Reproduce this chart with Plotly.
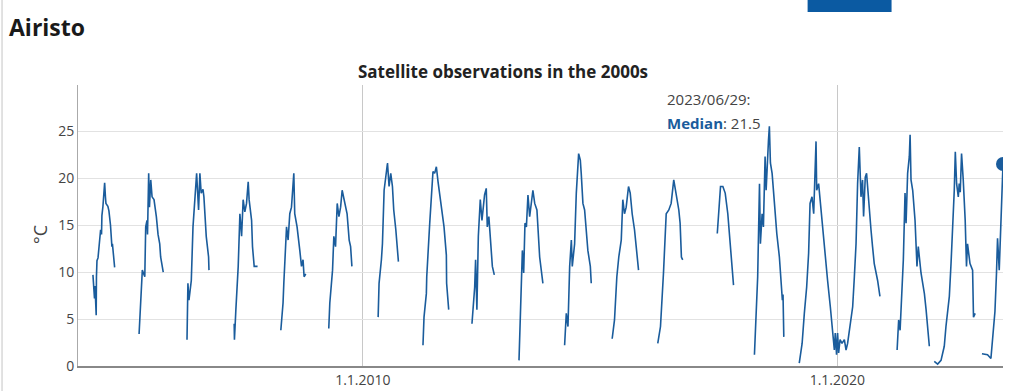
import datetime as dt
import plotly.graph_objects as go

# ---- data (day-of-year offsets from 1 Jan, water temperature °C) ----
doy_2004 = [115,123,127,131,140,142,146,154,161,169,174,181,184,192,205,211,215,230,238,250,261,265,282]
t_2004 = [9.7,8.0,7.2,8.5,5.4,9.5,11.2,11.5,12.5,14.0,14.5,14.0,16.0,17.0,19.5,18.0,17.3,17.0,16.5,15.0,12.7,13.0,10.5]
doy_2005 = [104,111,121,129,148,155,165,169,178,184,194,204,219,237,250,263,270,290]
t_2005 = [3.4,5.2,6.7,10.2,9.5,14.8,15.5,14.0,20.5,16.9,19.8,18.0,17.7,15.9,14.0,13.0,11.6,10.0]
doy_2006 = [108,115,123,141,154,171,182,197,207,217,231,238,256,274,277]
t_2006 = [2.8,8.8,7.0,9.1,14.8,19.1,20.5,16.6,20.5,18.4,18.8,18.0,13.8,11.6,10.2]
doy_2007 = [106,108,119,137,150,163,175,188,201,214,221,240,247,260,286]
t_2007 = [4.5,2.8,6.0,10.6,16.2,13.8,17.7,16.4,17.3,19.6,17.7,15.5,12.7,10.6,10.6]
doy_2008 = [100,117,123,144,156,169,182,200,207,225,246,259,271,279,292]
t_2008 = [3.8,6.7,8.8,14.8,13.4,16.2,16.9,20.5,16.2,14.8,12.3,10.6,11.3,9.5,9.8]
doy_2009 = [103,111,132,142,155,168,181,194,206,227,244,260,271,281]
t_2009 = [4.0,6.7,10.2,13.8,12.7,17.3,15.9,16.9,18.7,17.3,16.2,13.4,12.7,10.6]
doy_2010 = [118,125,143,151,164,182,190,202,215,228,238,254,274]
t_2010 = [5.2,8.8,11.3,13.0,18.7,20.9,21.6,19.1,20.5,19.1,16.6,14.5,11.1]
doy_2011 = [98,106,124,127,150,175,188,201,214,240,260,278,280,296]
t_2011 = [2.2,5.2,7.7,9.5,15.2,20.7,20.5,21.2,19.6,16.9,14.8,11.8,8.8,6.0]
doy_2012 = [110,131,138,148,159,174,187,207,220,228,240,251,267,282]
t_2012 = [4.5,8.4,11.3,6.0,13.8,17.7,15.5,18.2,18.9,14.8,15.9,13.4,10.6,9.7]
doy_2013 = [106,116,132,142,152,163,175,188,201,213,227,244,265,278,290]
t_2013 = [0.6,6.3,12.3,9.9,15.2,14.8,18.2,15.9,17.7,18.7,17.3,16.6,11.6,10.2,8.8]
doy_2014 = [92,105,118,131,144,151,169,182,200,213,220,233,246,259,271,290,297]
t_2014 = [2.2,5.6,4.2,10.6,13.4,10.6,13.0,18.4,22.6,21.9,20.5,17.3,16.6,14.5,12.3,10.6,8.8]
doy_2015 = [93,111,129,144,163,175,188,201,219,232,247,265,278,296]
t_2015 = [2.9,4.9,9.5,11.6,13.4,17.7,16.2,16.9,19.1,18.4,16.2,14.5,12.7,10.2]
doy_2016 = [79,100,123,144,164,182,202,221,241,251,261,271]
t_2016 = [2.4,4.2,9.9,16.2,16.6,17.3,19.8,18.4,16.6,15.2,11.6,11.3]
doy_2017 = [171,183,196,214,232,252,260,296]
t_2017 = [14.1,16.9,19.1,19.1,18.4,16.2,14.8,8.6]
doy_2018 = [92,100,117,131,138,151,161,174,182,200,207,215,228,246,264,284,297,307,312,318]
t_2018 = [1.2,4.5,9.5,19.4,13.0,16.2,14.8,22.3,18.7,24.0,25.5,21.6,20.5,17.3,14.1,11.6,9.1,7.0,7.6,3.1]
doy_2019 = [72,94,111,129,144,155,170,183,201,206,221,232,252,273,290,311,329,342,349,359]
t_2019 = [0.3,2.4,5.6,8.4,12.0,17.3,18.0,16.2,23.9,18.7,19.4,17.7,14.5,11.6,9.1,6.3,3.8,1.7,3.5,1.2]
doy_2020 = [2,10,21,36,54,67,79,98,118,131,144,156,169,182,194,202,215,225,241,259,271,284,310,328]
t_2020 = [3.5,1.4,2.8,2.4,2.8,1.7,2.4,4.2,6.3,9.5,13.0,19.4,23.3,18.0,19.8,15.9,20.1,20.5,17.3,14.5,12.7,10.9,9.1,7.4]
doy_2021 = [94,106,117,132,142,155,163,175,188,194,201,214,232,247,257,278,304,317,329,342]
t_2021 = [1.7,4.9,3.8,8.1,11.3,18.4,15.2,20.5,22.3,24.6,19.8,18.7,15.5,10.6,12.7,9.9,7.7,6.0,4.2,2.1]
doy_2022 = [15,41,67,79,92,105,117,131,144,156,169,177,187,200,207,215,225,238,253,263,271,290,310,317,330]
t_2022 = [0.5,0.2,0.6,1.2,2.1,4.2,5.6,7.4,10.9,14.5,18.7,22.8,19.4,18.0,19.4,18.5,22.6,19.8,15.5,10.6,13.0,10.9,10.2,5.2,5.6]
doy_2023 = [17,60,86,94,106,117,129,137,150,163,170,179]
t_2023 = [1.3,1.2,0.8,2.1,4.9,5.8,9.9,13.6,10.2,15.5,18.0,21.5]

years = list(range(2004, 2024))
connected_to_next = [2019]          # 2019 winter continues into 2020

latest_date = "2023-06-29"
latest_median = 21.5
tick_vals = ["2010-01-01", "2020-01-01"]
tick_text = ["1.1.2010", "1.1.2020"]
y_ticks = [0, 5, 10, 15, 20, 25]

LINE = "#1a5c9c"
TXT = "#444444"
FONT = "Open Sans, Noto Sans, sans-serif"

xs, ys = [], []
g = globals()
for yr in years:
    base = dt.date(yr, 1, 1)
    for d, v in zip(g[f"doy_{yr}"], g[f"t_{yr}"]):
        xs.append(base + dt.timedelta(days=d))
        ys.append(v)
    if yr not in connected_to_next:
        xs.append(None)
        ys.append(None)

fig = go.Figure()
fig.add_trace(go.Scatter(x=xs, y=ys, mode="lines", line=dict(color=LINE, width=1.6),
                         connectgaps=False, hoverinfo="skip", showlegend=False))
fig.add_trace(go.Scatter(x=[latest_date], y=[latest_median], mode="markers",
                         marker=dict(color=LINE, size=14), showlegend=False))

fig.update_layout(
    width=1024, height=391,
    margin=dict(l=78, r=21, t=85, b=25, autoexpand=False),
    paper_bgcolor="white", plot_bgcolor="white",
    font=dict(family=FONT, color=TXT, size=14),
    title=dict(text="<b>Satellite observations in the 2000s</b>", xref="container", yref="container",
               x=503/1024, y=1-72/391, xanchor="center", yanchor="middle",
               font=dict(size=17, color="#222222", family=FONT)),
    xaxis=dict(type="date", range=["2004-01-01", latest_date], tickvals=tick_vals, ticktext=tick_text,
               showgrid=True, gridcolor="#c8c8c8", gridwidth=1, showline=True, linecolor="#888888",
               linewidth=1.5, ticks="", zeroline=False, tickfont=dict(size=14, color=TXT)),
    yaxis=dict(range=[0, 29.9], tickvals=y_ticks, showgrid=True, gridcolor="#e2e2e2", gridwidth=1,
               showline=True, linecolor="#aaaaaa", linewidth=1, ticks="", zeroline=False,
               tickfont=dict(size=14, color=TXT)),
    showlegend=False,
)

fig.add_annotation(text="<b>Airisto</b>", xref="paper", yref="paper",
                   x=(7-78)/925.5, y=(366-27)/281, xanchor="left", yanchor="middle",
                   showarrow=False, font=dict(size=23, color="#1a1a1a", family=FONT))
fig.add_annotation(text="°C", xref="paper", yref="paper", x=(40-78)/925.5, y=(366-235)/281,
                   xanchor="center", yanchor="middle",
                   textangle=-90, showarrow=False, font=dict(size=18, color=TXT, family=FONT))
fig.add_annotation(text="2023/06/29:", xref="paper", yref="paper", x=(665-78)/925.5, y=(366-99)/281,
                   xanchor="left", yanchor="middle", showarrow=False, font=dict(size=15, color=TXT, family=FONT))
fig.add_annotation(text=f"<b><span style='color:{LINE}'>Median</span></b>: {latest_median}",
                   xref="paper", yref="paper", x=(665-78)/925.5, y=(366-123)/281,
                   xanchor="left", yanchor="middle", showarrow=False, font=dict(size=15, color=TXT, family=FONT))

# page decorations (button bar and page border)
fig.add_shape(type="rect", xref="paper", yref="paper", x0=(808-78)/925.5, x1=(892-78)/925.5,
              y0=(366-12)/281, y1=(366+2)/281 + 1, fillcolor="#0b5aa2", line=dict(width=0), layer="above")
fig.add_shape(type="line", xref="paper", yref="paper", x0=(2-78)/925.5, x1=(2-78)/925.5,
              y0=-0.2, y1=1.4, line=dict(color="#d8d8d8", width=1.5))

fig.write_html("out.html", config={"displayModeBar": False},
               post_script="document.body.style.margin='0';document.body.style.overflow='hidden';")
